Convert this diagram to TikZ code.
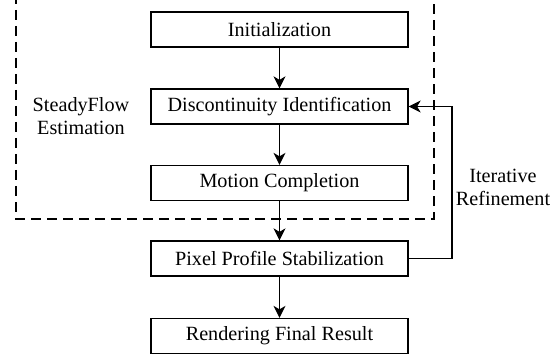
\documentclass[tikz,border=0pt]{standalone}
\usepackage{fontspec}
\setmainfont{Liberation Serif}
\usetikzlibrary{arrows.meta}
\begin{document}
\begin{tikzpicture}[x=1pt,y=-1pt,
  every node/.style={font=\fontsize{20.2}{23}\selectfont},
  stage/.style={draw,line width=1.3pt,minimum width=257pt,minimum height=35pt,inner sep=0pt},
  flow/.style={line width=1.3pt,-{Stealth[length=12pt,width=12pt,inset=3.5pt]}},
  group/.style={draw,line width=1.3pt,dash pattern=on 10pt off 6pt},
  note/.style={align=center,inner sep=0pt}]
\useasboundingbox (0,0) rectangle (559,358);
% dashed frame around the flow-estimation stages
\begin{scope}
\clip (0,0) rectangle (559,358);
\draw[group] (16,-6) rectangle (434,219);
\end{scope}
% pipeline stages
\node[stage] (init) at (279.5,29.5) {Initialization};
\node[stage] (disc) at (279.5,106.5) {Discontinuity Identification};
\node[stage] (mot)  at (279.5,183) {Motion Completion};
\node[stage] (pix)  at (279.5,258.5) {Pixel Profile Stabilization};
\node[stage] (rend) at (279.5,336) {Rendering Final Result};
% side labels
\node[note] (sfe) at (81,116) {SteadyFlow\\Estimation};
\node[note] (ir) at (503,187) {Iterative\\Refinement};
% connectors
\draw[flow] (init) -- (disc);
\draw[flow] (disc) -- (mot);
\draw[flow] (mot) -- (pix);
\draw[flow] (pix) -- (rend);
\coordinate (loop) at (452,258.5);
\draw[flow] (pix.east) -- (loop) |- (disc.east);
\end{tikzpicture}
\end{document}
